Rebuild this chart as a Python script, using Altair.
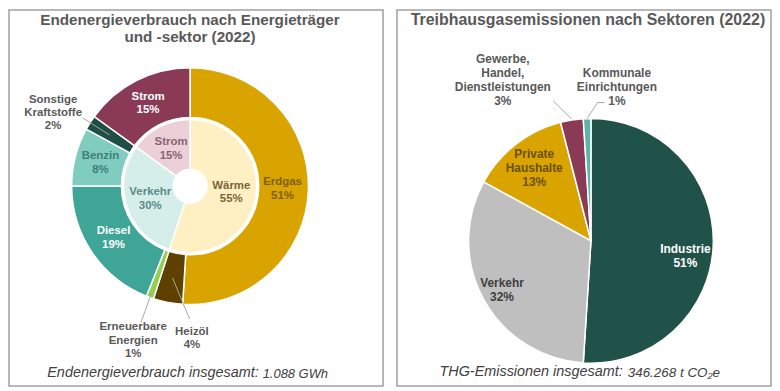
import math
import altair as alt
import pandas as pd

# ---------------- data ----------------
# Left chart: Endenergieverbrauch (outer ring = Energieträger, inner ring = Sektor)
OUTER_CATS = ["Erdgas", "Heizöl", "Erneuerbare Energien", "Diesel", "Benzin",
              "Sonstige Kraftstoffe", "Strom"]
OUTER_LABELS = ["Erdgas", "Heizöl", "Erneuerbare\nEnergien", "Diesel", "Benzin",
                "Sonstige\nKraftstoffe", "Strom"]
OUTER_VALS = [51, 4, 1, 19, 8, 2, 15]

INNER_CATS = ["Wärme", "Verkehr", "Strom"]
INNER_LABELS = ["Wärme", "Verkehr", "Strom"]
INNER_VALS = [55, 30, 15]

# Right chart: Treibhausgasemissionen nach Sektoren
RIGHT_CATS = ["Industrie", "Verkehr", "Private Haushalte",
              "Gewerbe, Handel, Dienstleistungen", "Kommunale Einrichtungen"]
RIGHT_LABELS = ["Industrie", "Verkehr", "Private\nHaushalte",
                "Gewerbe,\nHandel,\nDienstleistungen", "Kommunale\nEinrichtungen"]
RIGHT_VALS = [51, 32, 13, 3, 1]

LEFT_TITLE = ["Endenergieverbrauch nach Energieträger", "und -sektor (2022)"]
LEFT_FOOT = ["Endenergieverbrauch insgesamt:", "1.088 GWh"]
RIGHT_TITLE = "Treibhausgasemissionen nach Sektoren (2022)"
RIGHT_FOOT = ["THG-Emissionen insgesamt:", "346.268 t CO\u2082e"]

# ---------------- styles ----------------
OUTER_COLORS = ["#D9A400", "#5E4100", "#92D050", "#3FA596", "#80CCBF", "#1F4E46", "#8A3A55"]
OUTER_TEXT = ["#7F6000", "#595959", "#595959", "#FFFFFF", "#3F7F77", "#595959", "#FFFFFF"]
INNER_COLORS = ["#FFF0C4", "#D6EEEA", "#EBD0D8"]
INNER_TEXT = ["#7A6535", "#5A8C86", "#8A6473"]
RIGHT_COLORS = ["#21524A", "#BFBFBF", "#D9A400", "#8A3A55", "#5BB5AA"]
RIGHT_TEXT = ["#FFFFFF", "#404040", "#6B5000", "#595959", "#595959"]

FONT = "Liberation Sans"
GRAY = "#595959"
LINE = "#A6A6A6"
W, H = 376, 378
THETA = alt.Scale(domain=[0, 100], range=[0, 2 * math.pi])


def ring_table(cats, labels, vals, tcols):
    df = pd.DataFrame({"cat": cats, "value": vals, "tcol": tcols})
    df["label"] = [f"{l}\n{v}%" for l, v in zip(labels, vals)]
    df["end"] = df["value"].cumsum()
    df["start"] = df["end"] - df["value"]
    df["mid"] = df["start"] + df["value"] / 2
    return df


def arcs(df, cats, colors, inner, outer, cx, cy):
    return alt.Chart(df).mark_arc(innerRadius=inner, outerRadius=outer,
                                  stroke="white", strokeWidth=1.5).encode(
        theta=alt.Theta("start:Q", scale=THETA, stack=False),
        theta2="end:Q",
        color=alt.Color("cat:N", scale=alt.Scale(domain=cats, range=colors), legend=None),
        x=alt.value(cx), y=alt.value(cy),
    )


def labels(df, names, radius, size, cx, cy, dx=0, dy=0):
    lh = size + 2
    nlines = max(df.loc[df["cat"].isin(names), "label"].str.count("\n") + 1)
    return alt.Chart(df).transform_filter(
        alt.FieldOneOfPredicate(field="cat", oneOf=names)
    ).mark_text(radius=radius, dx=dx, dy=dy - (nlines - 1) * lh / 2, fontSize=size,
                fontWeight="bold", font=FONT, lineBreak="\n", lineHeight=lh).encode(
        theta=alt.Theta("mid:Q", scale=THETA, stack=False),
        text="label:N",
        color=alt.Color("tcol:N", scale=None),
        x=alt.value(cx), y=alt.value(cy),
    )


def leaders(df, spec, cx, cy):
    rows = []
    for cat, (r0, r1, ex, ey, tail) in spec.items():
        m = float(df.loc[df["cat"] == cat, "mid"].iloc[0])
        a = 2 * math.pi * m / 100
        x1, y1 = cx + r0 * math.sin(a), cy - r0 * math.cos(a)
        x2, y2 = cx + r1 * math.sin(a) + ex, cy - r1 * math.cos(a) + ey
        rows.append({"x": x1, "y": y1, "x2": x2, "y2": y2})
        if tail:
            rows.append({"x": x2, "y": y2, "x2": x2 + tail, "y2": y2})
    d = pd.DataFrame(rows)
    return alt.Chart(d).mark_rule(color=LINE, strokeWidth=1).encode(
        x=alt.X("x:Q", scale=None, axis=None), y=alt.Y("y:Q", scale=None, axis=None),
        x2="x2:Q", y2="y2:Q",
    )


def text_item(txt, x, y, size, color, weight="normal", style="normal", align="center", lh=None):
    return alt.Chart(pd.DataFrame({"k": [0]})).mark_text(
        text=txt, fontSize=size, font=FONT, fontWeight=weight, fontStyle=style,
        color=color, align=align, baseline="middle", lineHeight=lh or size + 2,
    ).encode(x=alt.value(x), y=alt.value(y))


# ---------------- left panel ----------------
outer = ring_table(OUTER_CATS, OUTER_LABELS, OUTER_VALS, OUTER_TEXT)
inner = ring_table(INNER_CATS, INNER_LABELS, INNER_VALS, INNER_TEXT)
LCX, LCY = 182, 177

left = alt.layer(
    arcs(outer, OUTER_CATS, OUTER_COLORS, 69, 119, LCX, LCY),
    arcs(inner, INNER_CATS, INNER_COLORS, 17, 67, LCX, LCY),
    leaders(outer, {
        "Sonstige Kraftstoffe": (96, 128, 0, 0, 0),
        "Erneuerbare Energien": (113, 146, 0, 0, 0),
        "Heizöl": (94, 136, 25, 0, 0),
    }, LCX, LCY),
    labels(outer, ["Erdgas", "Diesel", "Benzin", "Strom"], 93, 11.5, LCX, LCY),
    labels(inner, INNER_CATS, 42, 11.5, LCX, LCY),
    labels(outer, ["Sonstige Kraftstoffe"], 150, 11.5, LCX, LCY, dx=-11, dy=7),
    labels(outer, ["Erneuerbare Energien"], 160, 11.5, LCX, LCY, dx=-3, dy=5),
    labels(outer, ["Heizöl"], 150, 11.5, LCX, LCY, dx=30, dy=6),
    text_item(LEFT_TITLE, 182, 10, 15.3, GRAY, weight="bold", lh=17),
    text_item(LEFT_FOOT[0], 251, 365, 14.5, "#404040", style="italic", align="right"),
    text_item(LEFT_FOOT[1], 255, 366, 13, "#404040", style="italic", align="left"),
).resolve_scale(color="independent").properties(width=W, height=H)

# ---------------- right panel ----------------
right_df = ring_table(RIGHT_CATS, RIGHT_LABELS, RIGHT_VALS, RIGHT_TEXT)
RCX, RCY = 195, 232

right = alt.layer(
    arcs(right_df, RIGHT_CATS, RIGHT_COLORS, 0, 123, RCX, RCY),
    leaders(right_df, {
        "Gewerbe, Handel, Dienstleistungen": (124, 145, -15, 3, 0),
        "Kommunale Einrichtungen": (123, 139, 11, 0, 7),
    }, RCX, RCY),
    labels(right_df, ["Industrie"], 95, 12, RCX, RCY, dy=12),
    labels(right_df, ["Verkehr"], 102, 12, RCX, RCY),
    labels(right_df, ["Private Haushalte"], 93, 12, RCX, RCY),
    labels(right_df, ["Gewerbe, Handel, Dienstleistungen"], 170, 12, RCX, RCY, dx=-62, dy=6),
    labels(right_df, ["Kommunale Einrichtungen"], 155, 12, RCX, RCY, dx=31, dy=0),
    text_item(RIGHT_TITLE, 192, 10, 16, GRAY, weight="bold"),
    text_item(RIGHT_FOOT[0], 227, 364, 14.5, "#404040", style="italic", align="right"),
    text_item(RIGHT_FOOT[1], 232, 365, 13.5, "#404040", style="italic", align="left"),
).resolve_scale(color="independent").properties(width=W, height=H)

chart = alt.hconcat(left, right, spacing=12).properties(
    padding=0, background="white"
).configure_view(stroke="#A0A0A0", strokeWidth=1.5)

chart.save("out.html", embed_options={"renderer": "svg", "actions": False})
